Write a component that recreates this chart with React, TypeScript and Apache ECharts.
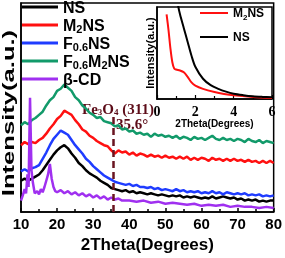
import React, { useEffect, useRef } from 'react';
import * as echarts from 'echarts';

const twoTheta = [10, 11, 12, 13, 14, 15, 16, 17, 18, 19, 20, 21, 22, 23, 24, 25, 26, 27, 28, 29, 30, 31, 32, 33, 34, 35, 36, 37, 38, 39, 40, 41, 42, 43, 44, 45, 46, 47, 48, 49, 50, 51, 52, 53, 54, 55, 56, 57, 58, 59, 60, 61, 62, 63, 64, 65, 66, 67, 68, 69, 70, 71, 72, 73, 74, 75, 76, 77, 78, 79, 80];

const nsValues = [15, 16, 15, 16, 17, 18, 20, 22.5, 25, 27.5, 29.5, 31, 32, 30.5, 28, 26, 23.5, 22, 20, 18.5, 17.5, 16.5, 15, 14, 13, 11.5, 11, 10.5, 10, 10.5, 9.5, 10, 9, 9.5, 9, 8.5, 9, 8.5, 8, 8.5, 8, 7.5, 8, 7.5, 8, 7, 7.5, 7, 7.5, 7, 6.5, 7, 6.5, 7.5, 6.5, 7, 7.5, 7, 6.5, 7, 6, 6.5, 5.5, 6, 5.5, 6, 5, 5.5, 5, 5.5, 5.5];

const m2nsValues = [32, 33.5, 32.5, 33.5, 33, 34.5, 35.5, 37.5, 40, 42, 44.5, 46, 48.5, 47.5, 46.5, 44, 42, 39.5, 38.5, 36.5, 35.5, 34, 33, 32, 31.5, 29.5, 28, 29.5, 28.5, 29, 27.5, 28.5, 27, 28, 27.5, 26.5, 27.5, 26.5, 27, 26, 27, 26, 26.5, 25.5, 26.5, 25.5, 26.5, 25, 26, 25, 26, 25.5, 24.5, 26, 25, 25.5, 24.5, 25.5, 24.5, 25.5, 24.5, 25, 24, 25, 24, 24.5, 23.5, 24.5, 23.5, 24.5, 23.5];

const f06nsValues = [19.5, 20.5, 19.5, 21, 21.5, 22.5, 25.5, 28.5, 32, 35, 37, 39, 38, 37, 34.5, 32, 30, 28, 25.5, 24, 22, 20.5, 19, 17.5, 16.5, 15.5, 14.5, 14, 13.5, 13, 13.5, 12.5, 13, 12, 12, 11.5, 12, 11, 11.5, 10.5, 11, 10.5, 10, 11, 10, 10.5, 9.5, 10, 9.5, 10, 9, 9.5, 9, 10, 9, 9.5, 8.5, 9.5, 9, 8.5, 9, 8.5, 9, 8, 8.5, 8, 8.5, 7.5, 8, 7.5, 8];

const f06m2nsValues = [41.5, 43, 42, 44, 45, 46.5, 48, 51, 53.5, 55, 58, 59, 61, 59.5, 58, 55, 53.5, 51, 49.5, 47.5, 46.5, 45, 45.5, 43.5, 43, 42.5, 41, 41.5, 39.5, 40, 38.5, 39, 37.5, 38, 37, 37.5, 36, 37.5, 36.5, 37, 36, 36.5, 35.5, 36.5, 35, 36, 35.5, 34.5, 36, 35, 35.5, 34.5, 35.5, 36.5, 35, 34.5, 35.5, 34.5, 35, 34, 35, 34.5, 33.5, 35, 34, 33.5, 34.5, 33, 34, 33.5, 33];

const betaCdTheta = [10, 10.5, 11, 11.4, 11.8, 12.1, 12.5, 12.9, 13.3, 13.8, 14.5, 15, 15.5, 16, 16.5, 17, 17.5, 18, 18.5, 19, 19.5, 20, 21, 22, 23, 24, 25, 26, 27, 28, 29, 30, 31, 32, 33, 34, 35, 36, 37, 38, 40, 42, 44, 46, 48, 50, 52, 54, 56, 58, 60, 62, 64, 66, 68, 70, 72, 74, 76, 78, 80];
const betaCdValues = [5.5, 8, 11, 9, 18, 12, 54.7, 20, 14, 9, 10, 8.5, 11, 9.5, 12, 15, 18, 23, 16, 12, 10, 9.5, 10.5, 9, 10, 8.5, 9.5, 8, 9, 7.5, 8.5, 7, 8, 6.5, 7.5, 6, 7, 6, 6.5, 5.5, 5.5, 5, 5.5, 4.5, 5, 4, 4.5, 4, 3.5, 4, 3, 3.5, 3, 3.5, 2.5, 3, 2.5, 2.5, 2, 2.5, 2];

const insetNsTheta = [1.0, 1.1, 1.2, 1.4, 1.6, 1.8, 2.0, 2.4, 2.8, 3.2, 3.6, 4.0, 4.5, 5.0, 5.5, 6.0];
const insetNsValues = [125, 102, 92, 77, 62, 47, 35, 22, 15, 11, 8, 5.8, 4.2, 3, 2.3, 1.8];
const insetM2Theta = [0.5, 0.6, 0.7, 0.8, 0.9, 1.0, 1.2, 1.4, 1.6, 1.8, 2.0, 2.4, 3.0, 3.5, 4.0, 5.0, 6.0];
const insetM2Values = [92, 75, 55, 40, 33, 32, 31, 29, 24, 18, 14.5, 11, 7.6, 5.5, 4, 2.3, 1.2];

const peakPosition = 35.6;
const peakMarkerTop = 46.7;

const SANS = '"Liberation Sans", Arial, sans-serif';
const SERIF = '"Liberation Serif", "Times New Roman", serif';

const legendRich = (fs: number, lh: number, sfs: number, slh: number) => ({
  a: { fontSize: fs, fontWeight: 'bold', fontFamily: SANS, color: '#000', lineHeight: lh },
  s: { fontSize: sfs, fontWeight: 'bold', fontFamily: SANS, color: '#000', lineHeight: slh, verticalAlign: 'bottom' },
});

const labelMap: Record<string, string> = {
  'NS': '{a|NS}',
  'M2NS': '{a|M}{s|2}{a|NS}',
  'F0.6NS': '{a|F}{s|0.6}{a|NS}',
  'F0.6M2NS': '{a|F}{s|0.6}{a|M}{s|2}{a|NS}',
  'β-CD': '{a|β-CD}',
};

export default function App() {
  const ref = useRef<HTMLDivElement>(null);
  useEffect(() => {
    if (!ref.current) return;
    const chart = echarts.init(ref.current, null, { renderer: 'svg' });
    const mainLegendCenters: [string, number][] = [
      ['NS', 8], ['M2NS', 26], ['F0.6NS', 44], ['F0.6M2NS', 62], ['β-CD', 80],
    ];
    const legends: any[] = mainLegendCenters.map(([n, c]) => ({
      data: [n], left: 22, top: c - 9, padding: 0, orient: 'vertical', icon: 'rect',
      itemWidth: 36, itemHeight: 3, selectedMode: false,
      formatter: (name: string) => labelMap[name],
      textStyle: { rich: legendRich(16, 18, 11, 8) },
    }));
    [['M2NS', 15], ['NS', 39]].forEach(([n, c]) => {
      legends.push({
        data: [n], left: 200, top: (c as number) - 8, padding: 0, orient: 'vertical', icon: 'rect',
        itemWidth: 28, itemHeight: 2, selectedMode: false,
        formatter: (name: string) => labelMap[name],
        textStyle: { rich: legendRich(12, 16, 8, 7) },
      });
    });
    const mainLine = (name: string, color: string, data: number[][], extra: any = {}) => ({
      type: 'line', name, xAxisIndex: 0, yAxisIndex: 0, data, showSymbol: false, symbol: 'none',
      lineStyle: { color, width: 2.5 }, itemStyle: { color }, ...extra,
    });
    const option: any = {
      animation: false,
      legend: legends,
      grid: [
        { left: 21, right: 11, top: 3, bottom: 41, show: true, borderColor: '#000', borderWidth: 1.5 },
        { left: 157, right: 13, top: 7, bottom: 159, show: true, borderColor: '#000', borderWidth: 1.5, backgroundColor: '#fff' },
      ],
      xAxis: [
        {
          gridIndex: 0, type: 'value', min: 10, max: 80, interval: 10,
          axisLine: { lineStyle: { color: '#000', width: 1.5 } },
          axisTick: { inside: true, length: 4, lineStyle: { color: '#000', width: 1.5 } },
          minorTick: { show: true, splitNumber: 2, length: 3, lineStyle: { color: '#000', width: 1.5 } },
          splitLine: { show: false },
          axisLabel: { fontSize: 15, fontWeight: 'bold', fontFamily: SANS, color: '#000', margin: 4 },
          name: '2Theta(Degrees)', nameLocation: 'middle', nameGap: 20,
          nameTextStyle: { fontSize: 17, fontWeight: 'bold', fontFamily: SANS, color: '#000' },
        },
        {
          gridIndex: 1, type: 'value', min: 0, max: 6, interval: 2,
          axisLine: { lineStyle: { color: '#000', width: 1.5 } },
          axisTick: { inside: true, length: 4, lineStyle: { color: '#000', width: 1.2 } },
          minorTick: { show: true, splitNumber: 2, length: 3, lineStyle: { color: '#000', width: 1.2 } },
          splitLine: { show: false },
          axisLabel: { fontSize: 14, fontWeight: 'bold', fontFamily: SERIF, color: '#000', margin: 5 },
          name: '2Theta(Degrees)', nameLocation: 'middle', nameGap: 17,
          nameTextStyle: { fontSize: 10, fontWeight: 'bold', fontFamily: SANS, color: '#000' },
        },
      ],
      yAxis: [
        {
          gridIndex: 0, type: 'value', min: 0, max: 100,
          axisLine: { show: true, lineStyle: { color: '#000', width: 1.5 } },
          axisTick: { show: false }, axisLabel: { show: false }, splitLine: { show: false },
        },
        {
          gridIndex: 1, type: 'value', min: 0, max: 100,
          axisLine: { show: true, lineStyle: { color: '#000', width: 1.5 } },
          axisTick: { show: false }, axisLabel: { show: false }, splitLine: { show: false },
          name: 'Intensity(a.u.)', nameLocation: 'middle', nameGap: 2,
          nameTextStyle: { fontSize: 11, fontWeight: 'bold', fontFamily: SANS, color: '#000' },
        },
      ],
      series: [
        mainLine('NS', '#000000', twoTheta.map((t, i) => [t, nsValues[i]]), {
          markLine: {
            silent: true, symbol: ['none', 'none'], label: { show: false },
            lineStyle: { color: '#6a1420', type: [7, 4], width: 2.5 },
            data: [[{ coord: [peakPosition, 0] }, { coord: [peakPosition, peakMarkerTop] }]],
          },
        }),
        mainLine('M2NS', '#ff1010', twoTheta.map((t, i) => [t, m2nsValues[i]])),
        mainLine('F0.6NS', '#1f3cff', twoTheta.map((t, i) => [t, f06nsValues[i]])),
        mainLine('F0.6M2NS', '#129a6a', twoTheta.map((t, i) => [t, f06m2nsValues[i]])),
        mainLine('β-CD', '#a030f0', betaCdTheta.map((t, i) => [t, betaCdValues[i]])),
        {
          type: 'line', name: 'M2NS', xAxisIndex: 1, yAxisIndex: 1, showSymbol: false, symbol: 'none', smooth: 0.3,
          data: insetM2Theta.map((t, i) => [t, insetM2Values[i]]),
          lineStyle: { color: '#ff1010', width: 2 }, itemStyle: { color: '#ff1010' },
        },
        {
          type: 'line', name: 'NS', xAxisIndex: 1, yAxisIndex: 1, showSymbol: false, symbol: 'none', smooth: 0.3,
          data: insetNsTheta.map((t, i) => [t, insetNsValues[i]]),
          lineStyle: { color: '#000', width: 2 }, itemStyle: { color: '#000' },
        },
      ],
      graphic: [
        {
          type: 'text', x: 9, y: 113, rotation: Math.PI / 2, scaleX: 1.6,
          style: { text: 'Intensity(a.u.)', fontSize: 16, fontWeight: 'bold', fontFamily: SANS, fill: '#000', align: 'center', verticalAlign: 'middle' },
        },
        {
          type: 'text', x: 82, y: 109,
          style: {
            text: '{a|Fe}{s|3}{a|O}{s|4}{a| (311)}', verticalAlign: 'middle',
            rich: {
              a: { fontSize: 15, fontWeight: 'bold', fontFamily: SERIF, fill: '#5c0c18', lineHeight: 14 },
              s: { fontSize: 9, fontWeight: 'bold', fontFamily: SERIF, fill: '#5c0c18', lineHeight: 6, verticalAlign: 'bottom' },
            },
          },
        },
        {
          type: 'text', x: 116, y: 124,
          style: { text: '35.6°', fontSize: 15, lineHeight: 14, fontWeight: 'bold', fontFamily: SERIF, fill: '#5c0c18', verticalAlign: 'middle' },
        },
      ],
    };
    chart.setOption(option);
    return () => chart.dispose();
  }, []);
  return <div ref={ref} style={{ position: 'fixed', left: 0, top: 0, width: 285, height: 258 }} />;
}
